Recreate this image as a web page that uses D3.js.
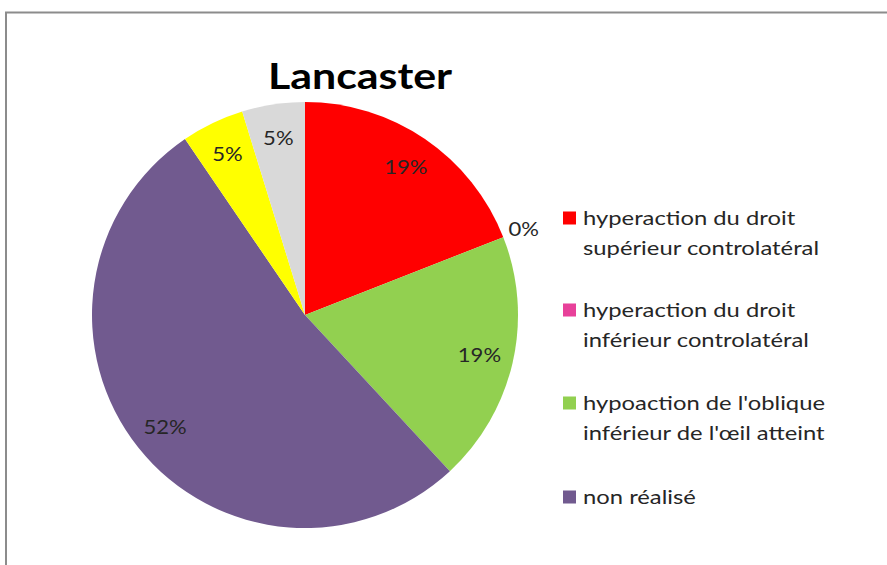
<!DOCTYPE html>
<html>
<head>
<meta charset="utf-8">
<script src="https://cdn.jsdelivr.net/npm/d3@7"></script>
<style>
  html, body { margin: 0; padding: 0; background: #fff; }
  svg { display: block; }
</style>
</head>
<body>
<svg id="chart" width="887" height="565"></svg>
<script>
// Lancaster test results (number of patients per outcome)
const categories = [
  "hyperaction du droit supérieur controlatéral",
  "hyperaction du droit inférieur controlatéral",
  "hypoaction de l'oblique inférieur de l'œil atteint",
  "non réalisé",
  "autre 1",
  "autre 2"
];
const counts = [4, 0, 4, 11, 1, 1];
const colors = ["#FF0000", "#E8419A", "#92D050", "#715A8F", "#FFFF00", "#D9D9D9"];
// Legend entries shown (wrapped text lines), first four categories
const legendLines = [
  ["hyperaction du droit", "supérieur controlatéral"],
  ["hyperaction du droit", "inférieur controlatéral"],
  ["hypoaction de l'oblique", "inférieur de l'œil atteint"],
  ["non réalisé"]
];

const svg = d3.select("#chart");
const font = "Lato, 'Open Sans', sans-serif";
const stretch = 1.16; // wide text rendering

// Chart frame
svg.append("path")
  .attr("d", "M6,565 V12.5 H887")
  .attr("fill", "none")
  .attr("stroke", "#8c8c8c")
  .attr("stroke-width", 2);

// Title
svg.append("text")
  .attr("transform", `translate(360,89) scale(${stretch},1)`)
  .attr("text-anchor", "middle")
  .attr("font-family", font)
  .attr("font-weight", "bold")
  .attr("font-size", 37)
  .attr("fill", "#000")
  .text("Lancaster");

const cx = 305, cy = 315, R = 213;
const total = d3.sum(counts);
const data = categories.map((c, i) => ({ name: c, value: counts[i], color: colors[i] }));

const pie = d3.pie().value(d => d.value).sort(null);
const arcs = pie(data);
const arc = d3.arc().innerRadius(0).outerRadius(R);

const g = svg.append("g").attr("transform", `translate(${cx},${cy})`);

g.selectAll("path.slice")
  .data(arcs.filter(a => a.data.value > 0))
  .join("path")
  .attr("class", "slice")
  .attr("d", arc)
  .attr("fill", d => d.data.color);

// Percentage labels: inside the slice, or just outside when the slice is empty
const pct = d3.format(".0%");
const inner = d3.arc().innerRadius(R * 0.84).outerRadius(R * 0.84);
const outer = d3.arc().innerRadius(R + 22).outerRadius(R + 22);

g.selectAll("text.lbl")
  .data(arcs)
  .join("text")
  .attr("class", "lbl")
  .attr("transform", d => {
    const p = (d.data.value > 0 ? inner : outer).centroid(d);
    return `translate(${p[0]},${p[1]}) scale(${stretch},1)`;
  })
  .attr("text-anchor", "middle")
  .attr("dy", "0.38em")
  .attr("font-family", font)
  .attr("font-size", 19)
  .attr("fill", "#262626")
  .text(d => pct(d.data.value / total));

// Legend
const legend = svg.append("g").attr("transform", "translate(563,0)");
const itemY = [218, 310, 403, 497];
legendLines.forEach((lines, i) => {
  const item = legend.append("g").attr("transform", `translate(0,${itemY[i]})`);
  item.append("rect")
    .attr("x", 0).attr("y", -6.5)
    .attr("width", 13).attr("height", 13)
    .attr("fill", colors[i]);
  const txt = item.append("g").attr("transform", "translate(20,0) scale(1.22,1)");
  lines.forEach((t, j) => {
    txt.append("text")
      .attr("x", 0).attr("y", j * 30)
      .attr("dy", "0.35em")
      .attr("font-family", font)
      .attr("font-size", 19.5)
      .attr("fill", "#262626")
      .text(t);
  });
});
</script>
</body>
</html>
